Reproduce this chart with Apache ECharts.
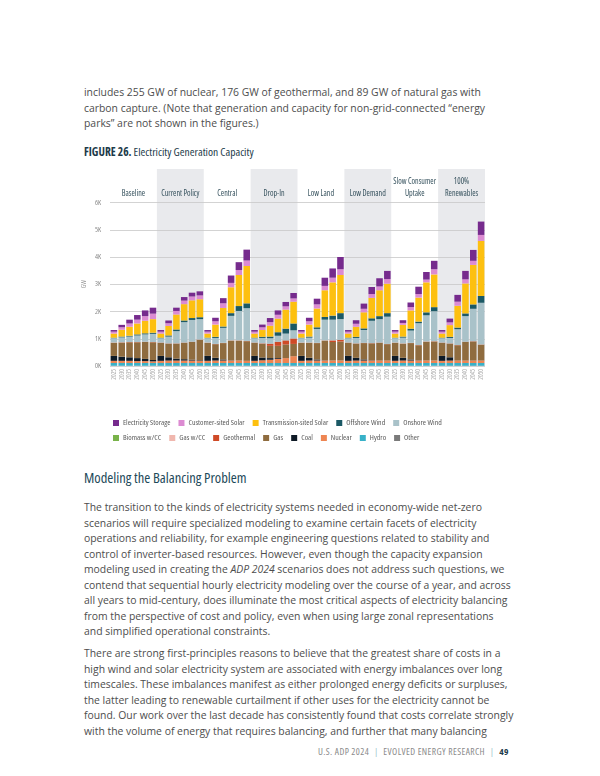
<!DOCTYPE html>
<html><head><meta charset="utf-8">
<script src="https://cdn.jsdelivr.net/npm/echarts/dist/echarts.min.js"></script>
<style>
body{margin:0;width:600px;height:776px;background:#fff;position:relative;overflow:hidden;font-family:"Open Sans",sans-serif;color:#4d4d4d}
.p{position:absolute;left:84px;font-size:10.4px;line-height:15.5px;white-space:nowrap}
.cond{font-family:"Open Sans",sans-serif;font-stretch:condensed}
#chart{position:absolute;left:0;top:160px;width:600px;height:300px}
.fig{position:absolute;left:84px;top:144px;font-size:11.5px;font-weight:500;color:#1d3b4a;white-space:nowrap}
.fig b{font-weight:700}
.h{position:absolute;left:84px;top:468px;font-size:14.5px;font-weight:500;color:#1e4a5a;white-space:nowrap}
.foot{position:absolute;left:318px;top:745px;font-size:9.5px;color:#8a8a8a;letter-spacing:0.4px;white-space:nowrap}
.foot .s{color:#9cc3cc;margin:0 5px}
.foot b{color:#1d3b4a;font-weight:700}
</style></head>
<body>
<div class="p" style="top:85px">includes 255 GW of nuclear, 176 GW of geothermal, and 89 GW of natural gas with<br>carbon capture. (Note that generation and capacity for non-grid-connected “energy<br>parks” are not shown in the figures.)</div>
<div class="fig cond"><b>FIGURE 26.</b> Electricity Generation Capacity</div>
<div id="chart"></div>
<div class="h cond">Modeling the Balancing Problem</div>
<div class="p" style="top:500px">The transition to the kinds of electricity systems needed in economy-wide net-zero<br>scenarios will require specialized modeling to examine certain facets of electricity<br>operations and reliability, for example engineering questions related to stability and<br>control of inverter-based resources. However, even though the capacity expansion<br>modeling used in creating the <i>ADP 2024</i> scenarios does not address such questions, we<br>contend that sequential hourly electricity modeling over the course of a year, and across<br>all years to mid-century, does illuminate the most critical aspects of electricity balancing<br>from the perspective of cost and policy, even when using large zonal representations<br>and simplified operational constraints.</div>
<div class="p" style="top:646px">There are strong first-principles reasons to believe that the greatest share of costs in a<br>high wind and solar electricity system are associated with energy imbalances over long<br>timescales. These imbalances manifest as either prolonged energy deficits or surpluses,<br>the latter leading to renewable curtailment if other uses for the electricity cannot be<br>found. Our work over the last decade has consistently found that costs correlate strongly<br>with the volume of energy that requires balancing, and further that many balancing</div>
<div class="foot cond">U.S. ADP 2024<span class="s">|</span>EVOLVED ENERGY RESEARCH<span class="s">|</span><b>49</b></div>
<script>
const scenarios = ['Baseline','Current Policy','Central','Drop-In','Low Land','Low Demand','Slow Consumer\nUptake','100%\nRenewables'];
const years = ['2025','2030','2035','2040','2045','2050'];
const yTicks = ['0K','1K','2K','3K','4K','5K','6K'];
// GW, 6 bars per scenario in the order of `scenarios`
const other      = [10,10,10,10,10,10, 10,10,10,10,10,10, 10,10,10,10,10,10, 10,10,10,10,10,10, 10,10,10,10,10,10, 10,10,10,10,10,10, 10,10,10,10,10,10, 10,10,10,10,10,10];
const hydro      = [100,100,100,100,100,100, 100,100,100,100,100,100, 100,100,100,100,100,100, 100,100,100,100,100,100, 100,100,100,100,100,100, 100,100,100,100,100,100, 100,100,100,100,100,100, 100,100,100,100,100,100];
const nuclear    = [80,80,80,70,70,60, 80,90,90,90,90,80, 80,90,90,90,90,80, 80,100,120,150,180,250, 80,90,90,90,90,90, 80,90,90,90,90,90, 80,90,90,90,90,90, 80,90,90,90,90,90];
const coal       = [180,150,130,110,80,50, 180,120,70,50,30,20, 180,100,40,10,0,0, 180,100,60,30,0,0, 180,100,40,10,0,0, 180,100,40,10,0,0, 180,100,40,10,0,0, 180,120,0,0,0,0];
const gas        = [480,520,550,580,620,650, 480,500,550,600,650,750, 480,500,600,720,730,720, 480,500,450,450,500,450, 480,550,600,720,680,700, 480,520,600,620,650,600, 480,520,600,550,690,700, 480,500,560,680,700,580];
const geothermal = [10,10,10,10,10,10, 10,10,10,10,10,10, 10,10,10,10,10,10, 10,20,80,150,150,200, 10,10,10,10,60,60, 10,10,10,10,10,10, 10,10,10,10,10,10, 10,10,10,10,10,10];
const gasCC      = [0,0,0,0,0,0, 0,0,0,0,0,0, 0,0,0,0,0,0, 0,0,0,0,0,0, 0,0,0,0,0,0, 0,0,0,0,0,0, 0,0,0,0,0,0, 0,0,0,0,0,0];
const biomassCC  = [0,0,0,0,0,0, 0,0,0,0,0,0, 0,0,0,0,0,0, 0,0,0,0,0,0, 0,0,0,0,0,0, 0,0,0,0,0,0, 0,0,0,0,0,0, 0,0,0,0,0,0];
const onshore    = [160,180,200,240,270,300, 160,250,450,750,800,750, 160,220,550,900,1080,1200, 160,200,200,220,250,300, 160,180,510,760,760,760, 160,200,470,820,860,1000, 160,210,450,800,960,1100, 160,200,580,940,1190,1530];
const offshore   = [20,30,30,40,40,40, 20,40,60,60,70,70, 20,40,50,100,180,180, 20,40,60,130,180,250, 20,40,60,100,150,220, 20,40,60,90,110,130, 20,40,70,60,110,150, 20,40,60,100,160,250];
const transSolar = [150,250,330,400,460,500, 150,350,550,600,650,660, 150,450,680,950,1140,1370, 150,250,400,500,700,800, 150,440,690,980,1220,1400, 150,370,590,750,950,1080, 150,430,670,880,1100,1200, 150,430,800,1100,1450,2020];
const custSolar  = [70,90,120,140,170,200, 70,100,130,130,140,140, 70,120,170,160,180,200, 70,100,130,140,120,120, 70,120,150,160,170,210, 70,110,130,140,140,170, 70,70,120,130,100,190, 70,100,150,150,150,220];
const storage    = [60,90,140,170,210,220, 60,100,120,130,140,150, 60,130,190,270,290,400, 60,100,150,160,160,200, 60,130,210,300,340,450, 60,130,190,260,300,300, 60,100,170,270,280,310, 60,140,250,310,400,490];

const categories = [];
scenarios.forEach(s => years.forEach(y => categories.push(s + '|' + y)));

const seriesDefs = [
  ['Other', other, '#7a7a7a'],
  ['Hydro', hydro, '#38b1c8'],
  ['Nuclear', nuclear, '#ee8552'],
  ['Coal', coal, '#0e1a26'],
  ['Gas', gas, '#8f6c3f'],
  ['Geothermal', geothermal, '#cf4a27'],
  ['Gas w/CC', gasCC, '#f0b7ae'],
  ['Biomass w/CC', biomassCC, '#79b34a'],
  ['Onshore Wind', onshore, '#a9c2c9'],
  ['Offshore Wind', offshore, '#1b5965'],
  ['Transmission-sited Solar', transSolar, '#fdc010'],
  ['Customer-sited Solar', custSolar, '#dc8bd2'],
  ['Electricity Storage', storage, '#762b8d']
];
const legendRow1 = ['Electricity Storage','Customer-sited Solar','Transmission-sited Solar','Offshore Wind','Onshore Wind'];
const legendRow2 = ['Biomass w/CC','Gas w/CC','Geothermal','Gas','Coal','Nuclear','Hydro','Other'];

const FAM = '"Open Sans"';
const COND = 'condensed';
const chart = echarts.init(document.getElementById('chart'), null, {renderer:'canvas'});
const legendCommon = {
  left: 108, orient: 'horizontal', icon: 'rect', itemWidth: 6, itemHeight: 6, itemGap: 8,
  selectedMode: false,
  textStyle: {fontSize: 7.8, color: '#5a5a5a', fontFamily: FAM, fontStyle: COND, padding: [0, 0, 0, -1]}
};
chart.setOption({
  animation: false,
  textStyle: {fontFamily: FAM},
  grid: [
    {left: 110, width: 375, top: 42.5, height: 163.5},
    {left: 110, width: 375, top: 9, height: 197}
  ],
  legend: [
    Object.assign({}, legendCommon, {top: 254, data: legendRow1}),
    Object.assign({}, legendCommon, {top: 269, data: legendRow2})
  ],
  xAxis: [
    {gridIndex: 0, type: 'category', data: categories,
     axisLine: {show: false}, axisTick: {show: false},
     axisLabel: {interval: 0, rotate: 90, fontSize: 6.3, color: '#a8a8a8', margin: 3,
                 fontFamily: FAM, fontStyle: COND,
                 formatter: v => v.split('|')[1]}},
    {gridIndex: 1, type: 'category', data: scenarios, position: 'top', z: -1,
     axisLine: {show: false}, axisTick: {show: false},
     axisLabel: {inside: true, interval: 0, margin: 7, fontSize: 8, lineHeight: 11.5, color: '#34505c',
                 fontFamily: FAM, fontStyle: COND,
                 align: 'center', formatter: v => v.indexOf('\n') >= 0 ? v : '\n' + v},
     splitArea: {show: true, areaStyle: {color: ['rgba(255,255,255,0)', '#e9eaed']}}}
  ],
  yAxis: [
    {gridIndex: 0, type: 'value', min: 0, max: 6000, interval: 1000,
     axisLabel: {fontSize: 7, color: '#888', margin: 9, fontFamily: FAM, fontStyle: COND,
                 formatter: v => yTicks[v / 1000]},
     splitLine: {lineStyle: {color: '#c8c8c8', width: 0.8}},
     name: 'GW', nameLocation: 'middle', nameGap: 22, nameRotate: 90, nameMoveOverlap: false,
     nameTextStyle: {fontSize: 6.5, color: '#999', fontFamily: FAM, fontStyle: COND}},
    {gridIndex: 1, type: 'value', min: 0, max: 1, show: false}
  ],
  series: seriesDefs.map(([name, data, color]) => ({
    name, type: 'bar', stack: 'total', data, xAxisIndex: 0, yAxisIndex: 0,
    barCategoryGap: '16%', itemStyle: {color}, emphasis: {disabled: true}
  }))
});
</script>
</body></html>
